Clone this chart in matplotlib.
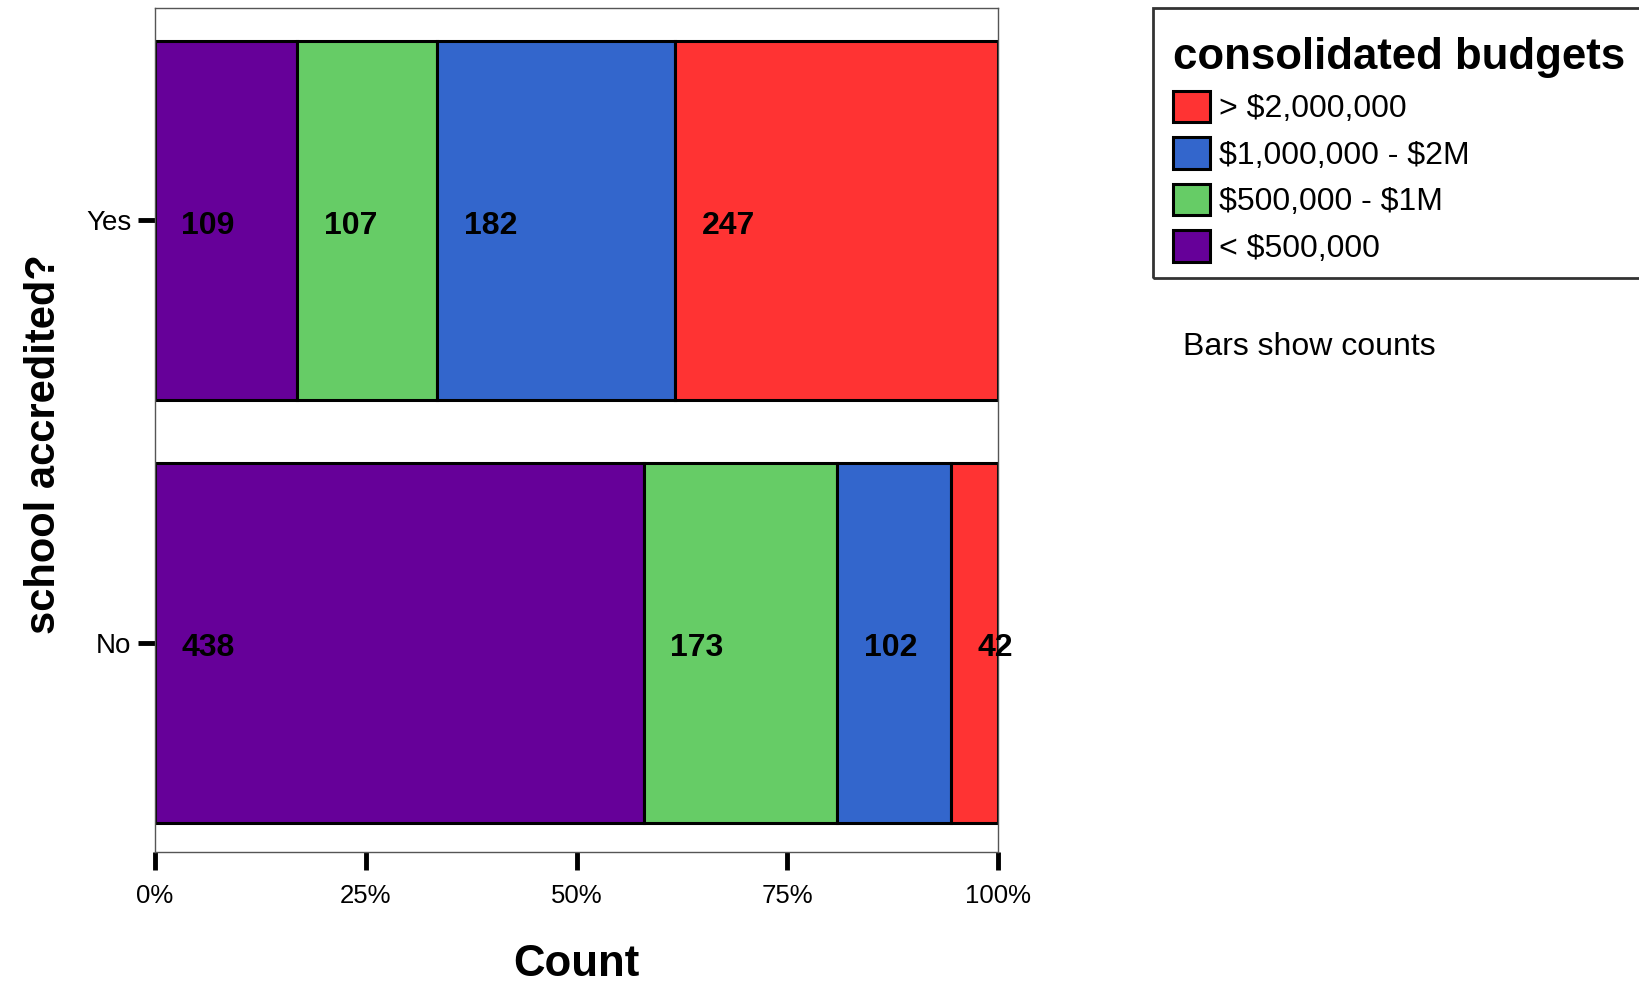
import matplotlib

matplotlib.use("Agg")
import matplotlib.pyplot as plt  # noqa: E402
import numpy as np  # noqa: E402
from matplotlib.patches import Patch, Rectangle  # noqa: E402

plt.rcParams["font.family"] = ["Liberation Sans", "DejaVu Sans"]

# data
groups = ["No", "Yes"]
budgets = ["< $500,000", "$500,000 - $1M", "$1,000,000 - $2M", "> $2,000,000"]
counts_no = [438, 173, 102, 42]
counts_yes = [109, 107, 182, 247]
colors = ["#660099", "#66CC66", "#3366CC", "#FF3333"]

counts = np.array([counts_no, counts_yes], dtype=float)
pct = counts / counts.sum(axis=1, keepdims=True) * 100
left = np.hstack([np.zeros((2, 1)), np.cumsum(pct, axis=1)[:, :-1]])

W, H = 1639, 989
fig = plt.figure(figsize=(W / 100, H / 100), dpi=100)
ax = fig.add_axes([0.0946, 0.1385, 0.5143, 0.853])

ypos = np.arange(len(groups))
for j, (name, col) in enumerate(zip(budgets, colors)):
    ax.barh(ypos, pct[:, j], left=left[:, j], height=0.851, color=col,
            edgecolor="black", linewidth=2.2)
    for i in range(len(groups)):
        ax.annotate(f"{int(counts[i, j])}", (left[i, j], ypos[i]),
                    xytext=(19, -1.5), textcoords="offset points",
                    ha="left", va="center_baseline", fontsize=23,
                    fontweight="bold", annotation_clip=False)

ax.set_xlim(0, 100)
ax.set_ylim(-0.495, 1.502)
ax.set_xticks([0, 25, 50, 75, 100])
ax.set_xticklabels(["0%", "25%", "50%", "75%", "100%"], fontsize=18.5)
ax.set_yticks(ypos)
ax.set_yticklabels(groups, fontsize=20)
ax.tick_params(axis="x", length=13, width=3.5, color="black", pad=10)
ax.tick_params(axis="y", length=12, width=3.5, color="black", pad=5)
for s in ax.spines.values():
    s.set_color("#555555")
    s.set_linewidth(1.0)

ax.set_xlabel("Count", fontsize=31.5, fontweight="bold", labelpad=26)
ax.set_ylabel("school accredited?", fontsize=30, fontweight="bold",
              labelpad=16)
ax.yaxis.label.set_y(0.484)

# legend: entries top to bottom from the highest budget band
handles = [Patch(facecolor=c, edgecolor="black", linewidth=2.2,
                 label=b.replace("$", r"\$"))
           for b, c in zip(budgets, colors)][::-1]
leg = fig.legend(handles=handles, loc="upper left",
                 bbox_to_anchor=(1141 / W, 1 - 5 / H),
                 title="consolidated budgets", fontsize=23,
                 title_fontproperties={"size": 31.5, "weight": "bold"},
                 frameon=False, handlelength=1.15, handleheight=1.15,
                 handletextpad=0.3, labelspacing=0.4, borderpad=0.5,
                 alignment="left")
fig.add_artist(Rectangle((1153 / W, 1 - 278 / H), (W + 20 - 1153) / W,
                         270 / H, transform=fig.transFigure, fill=False,
                         edgecolor="#333333", linewidth=2.0, clip_on=False))

fig.text(1183 / W, 1 - 347 / H, "Bars show counts", fontsize=23,
         ha="left", va="center")

fig.savefig("out.png", dpi=100)
